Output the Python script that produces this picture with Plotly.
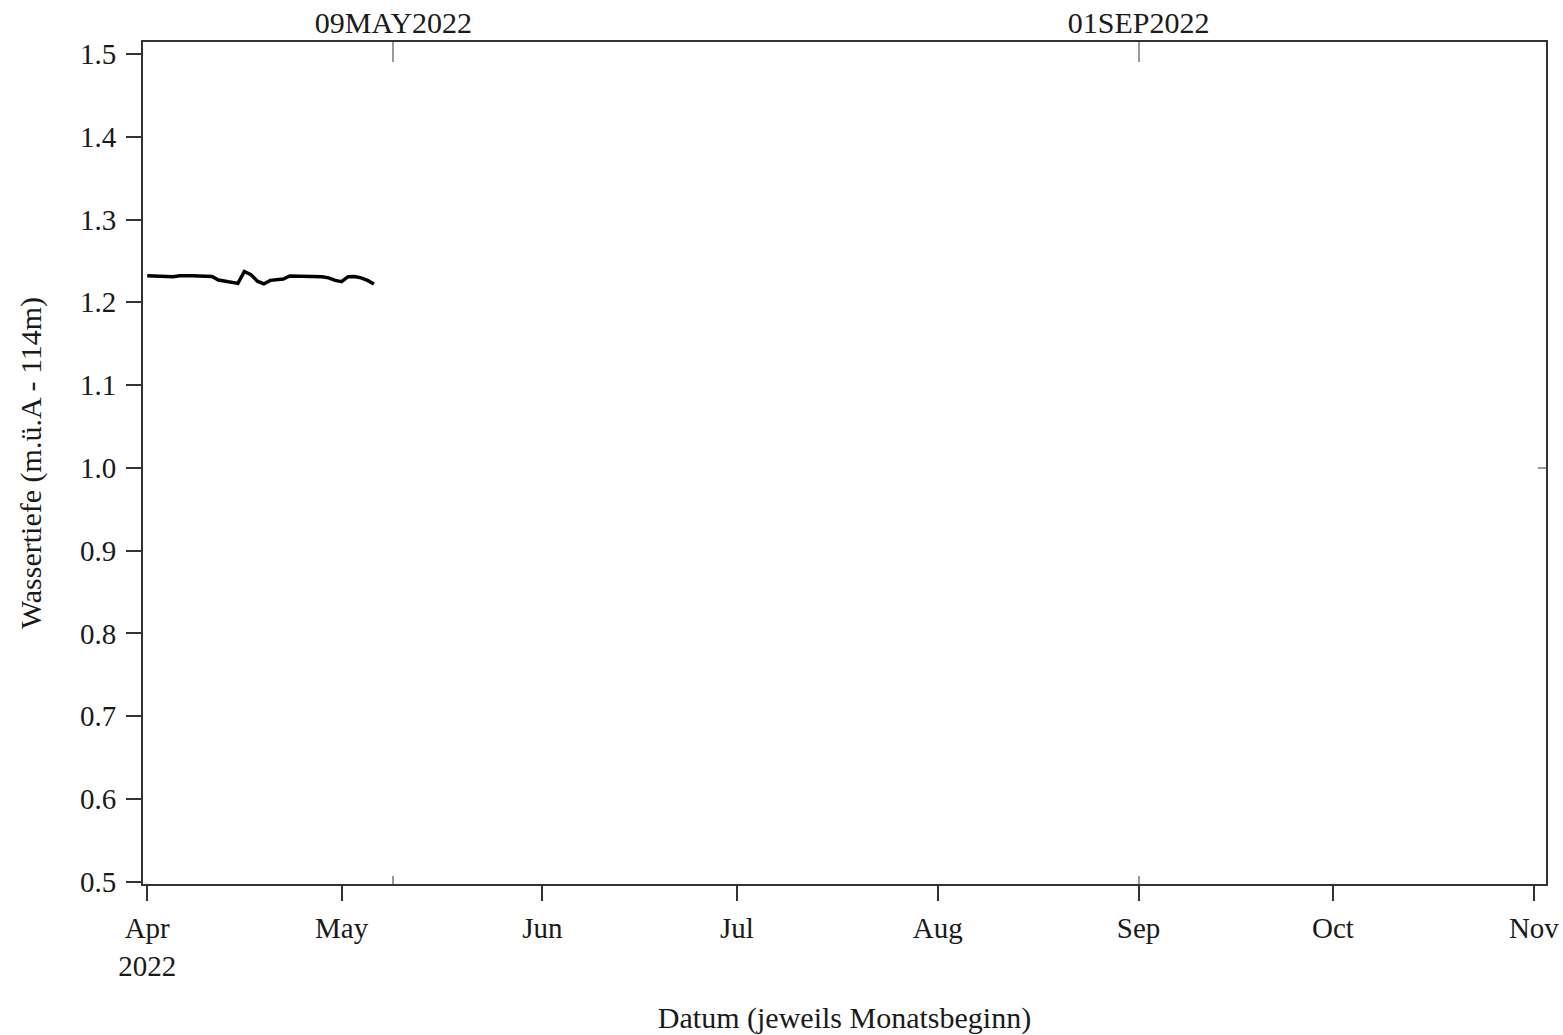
import plotly.graph_objects as go
import pandas as pd

# ---- data ----
dates = pd.date_range("2022-04-01", "2022-05-06", freq="D").strftime("%Y-%m-%d").tolist()
wassertiefe = [1.232, 1.2315, 1.231, 1.2305, 1.231, 1.232, 1.2325, 1.232, 1.2318, 1.2318,
               1.2312, 1.227, 1.2255, 1.2235, 1.2228, 1.2372, 1.2335, 1.2255, 1.2222, 1.2265,
               1.2275, 1.2282, 1.2318, 1.2318, 1.2318, 1.2315, 1.2318, 1.2308, 1.2295, 1.2265,
               1.2250, 1.2310, 1.2312, 1.2295, 1.2265, 1.2222]

month_ticks = ["2022-04-01", "2022-05-01", "2022-06-01", "2022-07-01",
               "2022-08-01", "2022-09-01", "2022-10-01", "2022-11-01"]
month_labels = ["Apr<br>2022", "May", "Jun", "Jul", "Aug", "Sep", "Oct", "Nov"]

ref_dates = ["2022-05-09", "2022-09-01"]
ref_labels = ["09MAY2022", "01SEP2022"]

y_ticks = [0.5, 0.6, 0.7, 0.8, 0.9, 1.0, 1.1, 1.2, 1.3, 1.4, 1.5]
ref_level = [1.0]

x_range = ["2022-03-31 08:30", "2022-11-02 21:00"]
y_range = [0.4972, 1.5145]

FONT = "Liberation Serif, Times New Roman, serif"
TXT = "#1a1a1a"
AX = "#333333"

fig = go.Figure()
fig.add_trace(go.Scatter(x=dates, y=wassertiefe, mode="lines",
                         line=dict(color="black", width=3.5), showlegend=False,
                         hoverinfo="x+y"))
# invisible helper traces so the overlay axes are drawn
for xa, ya in [("x2", "y"), ("x3", "y"), ("x", "y2")]:
    fig.add_trace(go.Scatter(x=dates, y=wassertiefe, mode="lines", xaxis=xa, yaxis=ya,
                             line=dict(color="rgba(0,0,0,0)", width=0),
                             showlegend=False, hoverinfo="skip"))

fig.update_layout(
    width=1563, height=1035,
    margin=dict(l=143, r=17, t=42, b=151),
    paper_bgcolor="white", plot_bgcolor="white",
    font=dict(family=FONT, size=29, color=TXT),
    xaxis=dict(range=x_range, type="date", tickvals=month_ticks, ticktext=month_labels,
               ticks="outside", ticklen=15, tickwidth=2, tickcolor=AX,
               ticklabelstandoff=2,
               showline=True, linecolor=AX, linewidth=2, mirror=True,
               showgrid=False, zeroline=False, automargin=False,
               tickfont=dict(size=29, family=FONT, color=TXT),
               title=dict(text="Datum (jeweils Monatsbeginn)", standoff=28,
                          font=dict(size=30, family=FONT, color=TXT))),
    yaxis=dict(range=y_range, tickvals=y_ticks, tickformat=".1f",
               ticks="outside", ticklen=15, tickwidth=2, tickcolor=AX,
               ticklabelstandoff=4,
               showline=True, linecolor=AX, linewidth=2, mirror=True,
               showgrid=False, zeroline=False, automargin=False,
               tickfont=dict(size=29, family=FONT, color=TXT),
               title=dict(text="Wassertiefe (m.ü.A - 114m)", standoff=29,
                          font=dict(size=30, family=FONT, color=TXT))),
    xaxis2=dict(range=x_range, type="date", overlaying="x", side="top",
                tickvals=ref_dates, ticktext=ref_labels, automargin=False,
                ticks="inside", ticklen=20, tickwidth=2, tickcolor="#9a9a9a",
                ticklabelstandoff=2,
                showline=False, showgrid=False, zeroline=False,
                tickfont=dict(size=30, family=FONT, color=TXT)),
    xaxis3=dict(range=x_range, type="date", overlaying="x", side="bottom",
                tickvals=ref_dates, showticklabels=False, automargin=False,
                ticks="inside", ticklen=8, tickwidth=2, tickcolor="#9a9a9a",
                showline=False, showgrid=False, zeroline=False),
    yaxis2=dict(range=y_range, overlaying="y", side="right",
                tickvals=ref_level, showticklabels=False, automargin=False,
                ticks="inside", ticklen=8, tickwidth=2, tickcolor="#9a9a9a",
                showline=False, showgrid=False, zeroline=False),
)

fig.write_html("out.html", config={"displayModeBar": False},
               post_script="document.body.style.margin='0';")
